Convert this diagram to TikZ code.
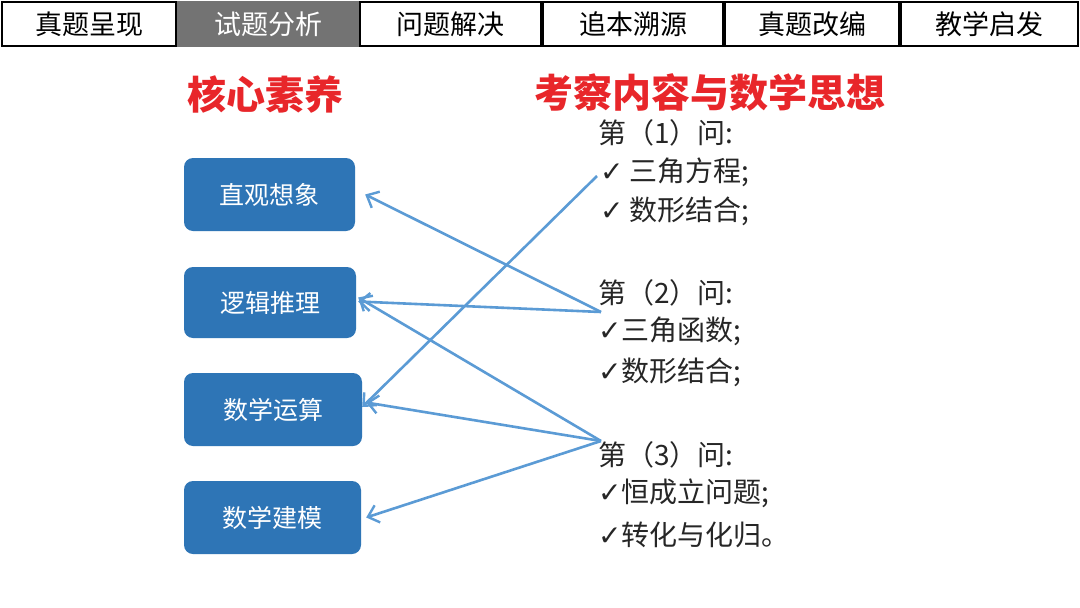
\documentclass[tikz,border=0pt]{standalone}
\usepackage{fontspec}
\setmainfont{Noto Sans CJK SC}
\newfontfamily\dejav{DejaVu Sans}
\usetikzlibrary{arrows.meta}
\definecolor{boxblue}{HTML}{2E75B6}
\definecolor{arrblue}{HTML}{5B9BD5}
\definecolor{tred}{HTML}{E8262A}
\newcommand{\ck}{{\dejav ✓}}
\begin{document}
\begin{tikzpicture}[x=1pt,y=-1pt,
  tab/.style={draw=black,line width=1.8pt,minimum height=44pt,inner sep=0pt,font=\fontsize{27}{29}\selectfont},
  cbox/.style={fill=boxblue,rounded corners=9pt,text=white,inner sep=0pt,font=\fontsize{25}{27}\selectfont},
  rt/.style={anchor=west,inner sep=0pt,font=\fontsize{28}{30}\selectfont,text=black!85},
  conn/.style={arrblue,line width=2.6pt,-{Straight Barb[length=10pt,width=18pt,line width=2.4pt]}}]
\useasboundingbox (0,0) rectangle (1080,608);
\fill[white] (0,0) rectangle (1080,608);
% tabs
\node[tab,minimum width=174pt] (t1) at (89,24) {真题呈现};
\node[tab,minimum width=180pt,fill=black!55,text=white,draw=black!55] (t2) at (268,24) {试题分析};
\node[tab,minimum width=181pt] (t3) at (450.5,24) {问题解决};
\node[tab,minimum width=180pt] (t4) at (633,24) {追本溯源};
\node[tab,minimum width=174pt] (t5) at (812,24) {真题改编};
\node[tab,minimum width=177pt] (t6) at (989.5,24) {教学启发};
% titles
\node[text=tred,font=\fontsize{39}{41}\selectfont\bfseries] (h1) at (265,95) {核心素养};
\node[text=tred,font=\fontsize{39}{41}\selectfont\bfseries] (h2) at (710,93) {考察内容与数学思想};
% boxes
\node[cbox,minimum width=171pt,minimum height=73pt] (b1) at (269.5,194.5) {直观想象};
\node[cbox,minimum width=172pt,minimum height=71pt] (b2) at (270,302.5) {逻辑推理};
\node[cbox,minimum width=178pt,minimum height=73pt] (b3) at (273,409.5) {数学运算};
\node[cbox,minimum width=177pt,minimum height=73pt] (b4) at (272.5,517.5) {数学建模};
% right text
\node[rt] (q1) at (598,133) {第（1）问:};
\node[rt] (q1a) at (600,172) {\ck\ 三角方程;};
\node[rt] (q1b) at (600,211) {\ck\ 数形结合;};
\node[rt] (q2) at (598,293) {第（2）问:};
\node[rt] (q2a) at (598,331) {\ck 三角函数;};
\node[rt] (q2b) at (598,372) {\ck 数形结合;};
\node[rt] (q3) at (598,455) {第（3）问:};
\node[rt] (q3a) at (598,493) {\ck 恒成立问题;};
\node[rt] (q3b) at (598,535) {\ck 转化与化归。};
% connectors
\coordinate (s1) at (597,176);
\coordinate (s2) at (601,312);
\coordinate (s3) at (601,441);
\draw[conn] (s1) -- (b3.east |- 0,407) ;
\draw[conn] (s2) -- ([xshift=10pt,yshift=0pt]b1.east);
\draw[conn] (s2) -- ([xshift=2pt,yshift=1pt]b2.east);
\draw[conn] (s3) -- ([xshift=2pt,yshift=5pt]b2.east);
\draw[conn] (s3) -- ([xshift=4pt,yshift=7pt]b3.east);
\draw[conn] (s3) -- ([xshift=5pt,yshift=0pt]b4.east);
\end{tikzpicture}
\end{document}
